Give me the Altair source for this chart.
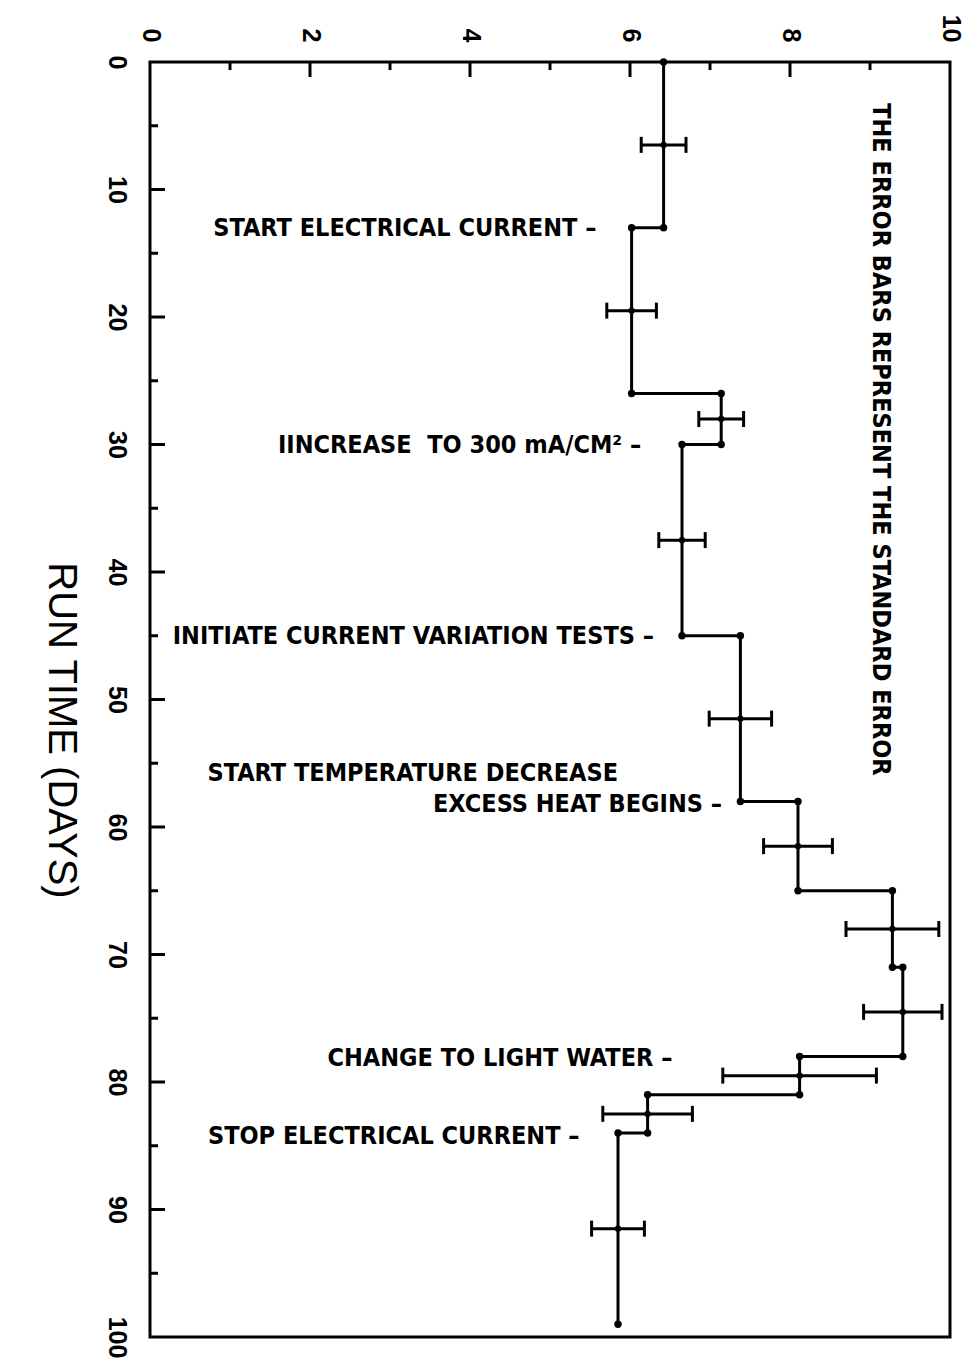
import altair as alt
import pandas as pd

# --- data -------------------------------------------------------------
seg_start = [0, 13, 26, 30, 45, 58, 65, 71, 78, 81, 84]
seg_end = [13, 26, 30, 45, 58, 65, 71, 78, 81, 84, 99]
seg_value = [6.42, 6.02, 7.14, 6.65, 7.38, 8.10, 9.28, 9.41, 8.12, 6.22, 5.85]

err_day = [6.5, 19.5, 28, 37.5, 51.5, 61.5, 68, 74.5, 79.5, 82.5, 91.5]
err_half = [0.28, 0.31, 0.28, 0.29, 0.39, 0.43, 0.58, 0.49, 0.96, 0.56, 0.33]

note_text = [
    "START ELECTRICAL CURRENT \u2013",
    "IINCREASE \u00a0TO 300 mA/CM\u00b2 \u2013",
    "INITIATE CURRENT VARIATION TESTS \u2013",
    "START TEMPERATURE DECREASE",
    "EXCESS HEAT BEGINS \u2013",
    "CHANGE TO LIGHT WATER \u2013",
    "STOP ELECTRICAL CURRENT \u2013",
]
note_day = [13, 30, 45, 55.8, 58.2, 78.1, 84.2]
note_value = [5.58, 6.14, 6.30, 5.85, 7.15, 6.53, 5.37]

side_note = "THE ERROR BARS REPRESENT THE STANDARD ERROR"
side_day = 29.6
side_value = 9.14

x_ticks = [0, 2, 4, 6, 8, 10]
x_major_inner = [2, 4, 6, 8]
x_minor_inner = [1, 3, 5, 7, 9]
y_ticks = [0, 10, 20, 30, 40, 50, 60, 70, 80, 90, 100]
y_major_inner = [10, 20, 30, 40, 50, 60, 70, 80, 90]
y_minor_inner = [5, 15, 25, 35, 45, 55, 65, 75, 85, 95]

# --- tables -------------------------------------------------------------
path_rows = []
k = 0
for s, e, v in zip(seg_start, seg_end, seg_value):
    path_rows.append({"order": k, "day": s, "value": v}); k += 1
    path_rows.append({"order": k, "day": e, "value": v}); k += 1
path = pd.DataFrame(path_rows)

center_val = []
for d in err_day:
    for s, e, v in zip(seg_start, seg_end, seg_value):
        if s <= d <= e:
            center_val.append(v)
            break
err = pd.DataFrame({
    "day": err_day,
    "value": center_val,
    "lo": [c - h for c, h in zip(center_val, err_half)],
    "hi": [c + h for c, h in zip(center_val, err_half)],
})
notes = pd.DataFrame({"text": note_text, "day": note_day, "value": note_value})
side = pd.DataFrame({"text": [side_note], "day": [side_day], "value": [side_value]})

W, H = 800, 1275
TXT_FONT = "Liberation Sans Narrow, DejaVu Sans Condensed, Liberation Sans, sans-serif"
AX_FONT = "Liberation Sans, Arial, sans-serif"

xscale = alt.Scale(domain=[0, 10], nice=False, zero=False)
yscale = alt.Scale(domain=[0, 100], nice=False, zero=False, reverse=True)

x_axis = alt.Axis(
    orient="top", values=x_ticks, labelAngle=90, labelAlign="right",
    labelBaseline="middle", labelFontSize=25, labelFont=AX_FONT,
    labelFontWeight="bold", labelColor="black", labelPadding=20,
    ticks=False, domain=False, grid=False, title=None,
)
y_axis = alt.Axis(
    orient="left", values=y_ticks, labelAngle=90, labelAlign="center",
    labelBaseline="top", labelFontSize=25, labelFont=AX_FONT,
    labelFontWeight="bold", labelColor="black", labelPadding=22,
    ticks=False, domain=False, grid=False,
    title="RUN TIME (DAYS)", titleAngle=90, titleAlign="center",
    titleBaseline="middle", titleFontSize=40, titleFont=AX_FONT,
    titleFontWeight="normal", titleColor="black", titleX=-90, titleY=668,
)


def X(field):
    return alt.X(field, type="quantitative", scale=xscale, axis=x_axis)


def Y(field):
    return alt.Y(field, type="quantitative", scale=yscale, axis=y_axis)


line = alt.Chart(path).mark_line(color="black", strokeWidth=3, opacity=1).encode(
    x=X("value"), y=Y("day"), order="order:Q",
)
dots = alt.Chart(path).mark_circle(color="black", size=55, opacity=1).encode(
    x=X("value"), y=Y("day"),
)
ebar = alt.Chart(err).mark_rule(color="black", strokeWidth=3, opacity=1).encode(
    x=X("lo"), x2="hi:Q", y=Y("day"),
)
ecap_lo = alt.Chart(err).mark_tick(color="black", thickness=3, size=16, orient="vertical", opacity=1).encode(
    x=X("lo"), y=Y("day"),
)
ecap_hi = alt.Chart(err).mark_tick(color="black", thickness=3, size=16, orient="vertical", opacity=1).encode(
    x=X("hi"), y=Y("day"),
)
edots = alt.Chart(err).mark_circle(color="black", size=40, opacity=1).encode(
    x=X("value"), y=Y("day"),
)

xt_major = alt.Chart(pd.DataFrame({"value": x_major_inner})).mark_rule(color="black", strokeWidth=3, opacity=1).encode(
    x=X("value"), y=alt.value(0), y2=alt.value(15))
xt_minor = alt.Chart(pd.DataFrame({"value": x_minor_inner})).mark_rule(color="black", strokeWidth=3, opacity=1).encode(
    x=X("value"), y=alt.value(0), y2=alt.value(8))
yt_major = alt.Chart(pd.DataFrame({"day": y_major_inner})).mark_rule(color="black", strokeWidth=3, opacity=1).encode(
    y=Y("day"), x=alt.value(0), x2=alt.value(15))
yt_minor = alt.Chart(pd.DataFrame({"day": y_minor_inner})).mark_rule(color="black", strokeWidth=3, opacity=1).encode(
    y=Y("day"), x=alt.value(0), x2=alt.value(8))

note_marks = alt.Chart(notes).mark_text(
    align="right", baseline="middle", font=TXT_FONT, fontSize=25,
    fontWeight="bold", color="black",
).encode(
    x=X("value"), y=Y("day"), text="text:N",
)
side_mark = alt.Chart(side).mark_text(
    align="center", baseline="middle", angle=90, font=TXT_FONT, fontSize=25,
    fontWeight="bold", color="black",
).encode(
    x=X("value"), y=Y("day"), text="text:N",
)

chart = alt.layer(
    line, dots, ebar, ecap_lo, ecap_hi, edots,
    xt_major, xt_minor, yt_major, yt_minor, note_marks, side_mark,
).properties(
    width=W, height=H,
    autosize=alt.AutoSizeParams(type="none"),
    padding={"left": 150, "top": 62, "right": 26, "bottom": 27},
    background="white",
).configure_view(stroke="black", strokeWidth=3)

chart.save("out.html", embed_options={"renderer": "svg", "actions": False})
